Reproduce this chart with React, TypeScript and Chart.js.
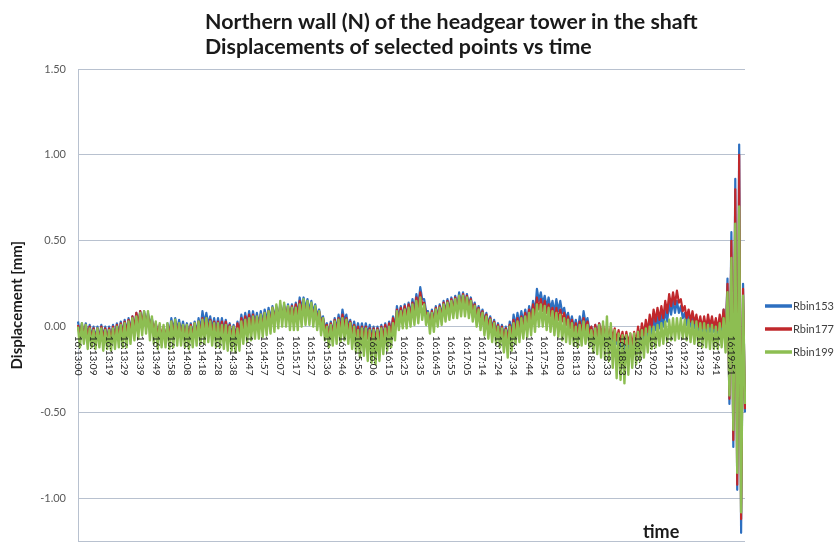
import React, { useEffect, useRef } from 'react';
import { Chart, registerables } from 'chart.js';

Chart.register(...registerables);

const TITLE_LINES = [
  'Northern wall (N) of the headgear tower in the shaft',
  'Displacements of selected points vs time',
];
const Y_TITLE = 'Displacement [mm]';
const X_TITLE = 'time';
const SERIES_NAMES = ['Rbin153', 'Rbin177', 'Rbin199'];
const SERIES_COLORS = ['#2D6FC0', '#C0282C', '#8DBE52'];
const SERIES_WIDTHS = [2.2, 2.2, 2.4];

const TICK_LABELS = [
  '16:13:00', '16:13:09', '16:13:19', '16:13:29', '16:13:39', '16:13:49', '16:13:58',
  '16:14:08', '16:14:18', '16:14:28', '16:14:38', '16:14:47', '16:14:57',
  '16:15:07', '16:15:17', '16:15:27', '16:15:36', '16:15:46', '16:15:56',
  '16:16:06', '16:16:15', '16:16:25', '16:16:35', '16:16:45', '16:16:55',
  '16:17:05', '16:17:14', '16:17:24', '16:17:34', '16:17:44', '16:17:54',
  '16:18:03', '16:18:13', '16:18:23', '16:18:33', '16:18:43', '16:18:52',
  '16:19:02', '16:19:12', '16:19:22', '16:19:32', '16:19:41', '16:19:51',
];
const SAMPLES_PER_LABEL = 8;

// one row per labelled interval (8 samples each)
const RBIN153 = [
  0.03, -0.04, 0.02, -0.05, 0.02, -0.05, 0.01, -0.06,
  0.00, -0.07, 0.00, -0.07, 0.01, -0.06, 0.00, -0.07,
  0.00, -0.07, 0.01, -0.06, 0.02, -0.05, 0.03, -0.04,
  0.04, -0.03, 0.05, -0.02, 0.06, -0.01, 0.08, 0.01,
  0.09, 0.02, 0.09, 0.02, 0.08, 0.01, 0.05, -0.02,
  0.02, -0.05, 0.00, -0.07, -0.02, -0.09, 0.02, -0.05,
  0.05, -0.02, 0.05, -0.02, 0.04, -0.03, 0.03, -0.04,
  0.02, -0.05, 0.02, -0.05, 0.03, -0.04, 0.05, -0.02,
  0.09, 0.02, 0.08, 0.01, 0.06, -0.01, 0.05, -0.02,
  0.05, -0.02, 0.05, -0.02, 0.04, -0.03, 0.02, -0.05,
  0.01, -0.06, 0.03, -0.04, 0.07, 0.00, 0.08, 0.01,
  0.09, 0.02, 0.09, 0.02, 0.08, 0.01, 0.09, 0.02,
  0.10, 0.03, 0.11, 0.04, 0.12, 0.05, 0.12, 0.05,
  0.13, 0.06, 0.13, 0.06, 0.13, 0.06, 0.13, 0.06,
  0.14, 0.07, 0.17, 0.10, 0.17, 0.10, 0.16, 0.09,
  0.15, 0.08, 0.13, 0.06, 0.10, 0.03, 0.06, -0.01,
  0.02, -0.05, 0.03, -0.04, 0.05, -0.02, 0.07, 0.00,
  0.10, 0.03, 0.07, 0.00, 0.04, -0.03, 0.03, -0.04,
  0.02, -0.05, 0.02, -0.05, 0.02, -0.05, 0.01, -0.06,
  0.00, -0.07, 0.00, -0.07, 0.01, -0.06, 0.02, -0.05,
  0.03, -0.04, 0.06, -0.01, 0.12, 0.05, 0.12, 0.05,
  0.13, 0.06, 0.14, 0.07, 0.16, 0.09, 0.19, 0.12,
  0.23, 0.16, 0.16, 0.09, 0.09, 0.02, 0.10, 0.03,
  0.12, 0.05, 0.13, 0.06, 0.15, 0.08, 0.16, 0.09,
  0.17, 0.10, 0.18, 0.11, 0.20, 0.13, 0.20, 0.13,
  0.19, 0.12, 0.17, 0.10, 0.14, 0.07, 0.12, 0.05,
  0.10, 0.03, 0.08, 0.01, 0.06, -0.01, 0.04, -0.03,
  0.02, -0.05, 0.01, -0.06, 0.00, -0.07, 0.03, -0.04,
  0.07, 0.00, 0.08, 0.01, 0.09, 0.02, 0.10, 0.03,
  0.12, 0.05, 0.15, 0.08, 0.22, 0.15, 0.20, 0.13,
  0.18, 0.11, 0.17, 0.10, 0.15, 0.08, 0.16, 0.09,
  0.15, 0.08, 0.11, 0.04, 0.08, 0.01, 0.06, -0.01,
  0.04, -0.03, 0.06, -0.01, 0.09, 0.02, 0.05, -0.02,
  0.00, -0.07, 0.01, -0.06, 0.02, -0.05, 0.00, -0.07,
  -0.02, -0.09, -0.02, -0.09, -0.03, -0.10, -0.05, -0.12,
  -0.06, -0.13, -0.07, -0.14, -0.08, -0.15, -0.07, -0.14,
  -0.05, -0.12, -0.03, -0.10, 0.00, -0.07, 0.03, -0.04,
  0.05, -0.02, 0.06, -0.01, 0.07, 0.00, 0.10, 0.03,
  0.14, 0.07, 0.15, 0.08, 0.15, 0.08, 0.12, 0.05,
  0.08, 0.01, 0.07, 0.00, 0.06, -0.01, 0.05, -0.02,
  0.03, -0.04, 0.03, -0.04, 0.04, -0.03, 0.04, -0.03,
  0.03, -0.04, 0.05, -0.02, 0.10, -0.10, 0.28, -0.45,
  0.55, -0.70, 0.86, -0.95, 1.06, -1.20, 0.25, -0.50,
];

const RBIN177 = [
  0.01, -0.06, 0.01, -0.06, 0.01, -0.06, 0.00, -0.07,
  -0.01, -0.08, -0.01, -0.08, 0.00, -0.07, -0.01, -0.08,
  -0.01, -0.08, 0.00, -0.07, 0.01, -0.06, 0.02, -0.05,
  0.03, -0.04, 0.04, -0.03, 0.06, -0.01, 0.08, 0.01,
  0.09, 0.02, 0.08, 0.01, 0.07, 0.00, 0.04, -0.03,
  0.02, -0.05, 0.01, -0.06, 0.00, -0.07, 0.01, -0.06,
  0.03, -0.04, 0.03, -0.04, 0.02, -0.05, 0.01, -0.06,
  0.01, -0.06, 0.01, -0.06, 0.02, -0.05, 0.03, -0.04,
  0.05, -0.02, 0.05, -0.02, 0.04, -0.03, 0.03, -0.04,
  0.03, -0.04, 0.03, -0.04, 0.03, -0.04, 0.01, -0.06,
  0.00, -0.07, 0.02, -0.05, 0.05, -0.02, 0.06, -0.01,
  0.07, 0.00, 0.07, 0.00, 0.06, -0.01, 0.07, 0.00,
  0.08, 0.01, 0.09, 0.02, 0.11, 0.04, 0.11, 0.04,
  0.12, 0.05, 0.12, 0.05, 0.12, 0.05, 0.12, 0.05,
  0.13, 0.06, 0.15, 0.08, 0.15, 0.08, 0.14, 0.07,
  0.13, 0.06, 0.11, 0.04, 0.09, 0.02, 0.05, -0.02,
  0.01, -0.06, 0.02, -0.05, 0.04, -0.03, 0.05, -0.02,
  0.07, 0.00, 0.05, -0.02, 0.03, -0.04, 0.01, -0.06,
  0.00, -0.07, 0.00, -0.07, 0.00, -0.07, -0.01, -0.08,
  -0.01, -0.08, -0.01, -0.08, 0.00, -0.07, 0.01, -0.06,
  0.02, -0.05, 0.05, -0.02, 0.10, 0.03, 0.11, 0.04,
  0.12, 0.05, 0.13, 0.06, 0.14, 0.07, 0.17, 0.10,
  0.20, 0.13, 0.14, 0.07, 0.08, 0.01, 0.09, 0.02,
  0.11, 0.04, 0.12, 0.05, 0.14, 0.07, 0.15, 0.08,
  0.16, 0.09, 0.17, 0.10, 0.18, 0.11, 0.19, 0.12,
  0.18, 0.11, 0.16, 0.09, 0.13, 0.06, 0.11, 0.04,
  0.09, 0.02, 0.07, 0.00, 0.05, -0.02, 0.03, -0.04,
  0.01, -0.06, 0.00, -0.07, -0.01, -0.08, 0.01, -0.06,
  0.04, -0.03, 0.05, -0.02, 0.06, -0.01, 0.08, 0.01,
  0.10, 0.03, 0.13, 0.06, 0.17, 0.10, 0.16, 0.09,
  0.15, 0.08, 0.13, 0.06, 0.11, 0.04, 0.11, 0.04,
  0.10, 0.03, 0.08, 0.01, 0.06, -0.01, 0.04, -0.03,
  0.02, -0.05, 0.03, -0.04, 0.05, -0.02, 0.03, -0.04,
  0.00, -0.07, 0.01, -0.06, 0.02, -0.05, 0.01, -0.06,
  0.00, -0.07, 0.00, -0.07, -0.01, -0.08, -0.02, -0.09,
  -0.03, -0.10, -0.03, -0.10, -0.04, -0.11, -0.03, -0.10,
  0.00, -0.07, 0.02, -0.05, 0.04, -0.03, 0.07, 0.00,
  0.10, 0.03, 0.11, 0.04, 0.12, 0.05, 0.15, 0.08,
  0.19, 0.12, 0.20, 0.13, 0.21, 0.14, 0.16, 0.09,
  0.12, 0.05, 0.10, 0.03, 0.09, 0.02, 0.07, 0.00,
  0.06, -0.01, 0.06, -0.01, 0.07, 0.00, 0.06, -0.01,
  0.05, -0.02, 0.07, 0.00, 0.10, -0.08, 0.25, -0.42,
  0.50, -0.66, 0.80, -0.92, 1.00, -1.12, 0.22, -0.48,
];

const RBIN199 = [
  0.00, -0.12, 0.02, -0.10, 0.01, -0.13, -0.01, -0.12,
  -0.02, -0.13, -0.01, -0.12, -0.01, -0.14, -0.02, -0.13,
  -0.02, -0.14, -0.01, -0.13, 0.00, -0.12, 0.01, -0.12,
  0.02, -0.12, 0.03, -0.10, 0.05, -0.08, 0.06, -0.07,
  0.08, -0.05, 0.09, -0.04, 0.09, -0.08, 0.06, -0.10,
  0.03, -0.13, 0.02, -0.12, 0.01, -0.12, 0.02, -0.13,
  0.03, -0.12, 0.04, -0.11, 0.02, -0.11, 0.01, -0.12,
  0.01, -0.13, 0.00, -0.12, 0.02, -0.11, 0.03, -0.10,
  0.04, -0.10, 0.05, -0.09, 0.03, -0.11, 0.02, -0.12,
  0.02, -0.12, 0.01, -0.13, 0.01, -0.14, 0.00, -0.14,
  0.00, -0.15, -0.01, -0.14, 0.03, -0.10, 0.04, -0.09,
  0.05, -0.08, 0.06, -0.07, 0.06, -0.07, 0.07, -0.06,
  0.08, -0.05, 0.09, -0.04, 0.11, -0.03, 0.13, -0.01,
  0.15, 0.00, 0.14, 0.00, 0.12, -0.02, 0.11, -0.02,
  0.11, -0.02, 0.13, 0.00, 0.16, 0.01, 0.15, 0.01,
  0.14, 0.00, 0.12, -0.02, 0.09, -0.05, 0.05, -0.08,
  0.00, -0.12, 0.01, -0.11, 0.03, -0.10, 0.04, -0.09,
  0.05, -0.08, 0.04, -0.10, 0.02, -0.13, 0.00, -0.15,
  -0.02, -0.18, -0.01, -0.17, -0.01, -0.20, -0.02, -0.21,
  -0.02, -0.22, -0.02, -0.20, -0.01, -0.16, -0.01, -0.14,
  0.00, -0.12, 0.02, -0.08, 0.09, -0.02, 0.09, -0.01,
  0.10, -0.01, 0.11, 0.00, 0.13, 0.01, 0.15, 0.02,
  0.17, 0.04, 0.13, 0.01, 0.08, -0.04, 0.08, -0.03,
  0.10, 0.00, 0.11, 0.01, 0.13, 0.03, 0.14, 0.04,
  0.15, 0.05, 0.16, 0.05, 0.18, 0.06, 0.18, 0.06,
  0.17, 0.05, 0.15, 0.03, 0.12, 0.00, 0.10, -0.02,
  0.08, -0.05, 0.06, -0.07, 0.04, -0.09, 0.02, -0.10,
  0.00, -0.12, -0.01, -0.15, -0.02, -0.18, 0.00, -0.14,
  0.02, -0.10, 0.03, -0.09, 0.05, -0.07, 0.06, -0.06,
  0.08, -0.05, 0.10, -0.03, 0.13, 0.00, 0.13, 0.00,
  0.12, -0.02, 0.11, -0.03, 0.09, -0.05, 0.08, -0.06,
  0.07, -0.08, 0.05, -0.09, 0.04, -0.10, 0.02, -0.11,
  0.00, -0.12, 0.01, -0.11, 0.03, -0.10, 0.01, -0.12,
  -0.02, -0.15, -0.01, -0.16, 0.01, -0.18, 0.03, -0.19,
  0.06, -0.20, 0.02, -0.24, -0.02, -0.30, -0.04, -0.31,
  -0.05, -0.33, -0.05, -0.28, -0.04, -0.24, -0.04, -0.22,
  -0.03, -0.20, -0.02, -0.18, -0.01, -0.15, 0.00, -0.13,
  0.00, -0.12, 0.01, -0.11, 0.02, -0.10, 0.03, -0.09,
  0.04, -0.08, 0.05, -0.08, 0.05, -0.07, 0.05, -0.07,
  0.04, -0.08, 0.04, -0.09, 0.03, -0.10, 0.03, -0.11,
  0.02, -0.12, 0.02, -0.12, 0.01, -0.13, 0.01, -0.13,
  0.00, -0.13, 0.02, -0.12, 0.05, -0.15, 0.20, -0.40,
  0.40, -0.60, 0.60, -0.85, 0.70, -1.08, 0.18, -0.45,
];

const Y_MIN = -1.25;
const Y_MAX = 1.5;
const Y_STEP = 0.5;

const CATEGORY_LABELS = RBIN199.map((_, i) =>
  i % SAMPLES_PER_LABEL === 0 ? TICK_LABELS[i / SAMPLES_PER_LABEL] ?? '' : ''
);

const GRID = '#B8C1CF';
const FONT = 'Lato, "Open Sans", sans-serif';

const overlayPlugin = {
  id: 'overlay',
  afterDatasetsDraw(chart: any) {
    const { ctx } = chart;
    const xs = chart.scales.x;
    const ys = chart.scales.y;
    const y0 = ys.getPixelForValue(0);
    ctx.save();
    ctx.fillStyle = '#1f1f1f';
    ctx.font = `10px ${FONT}`;
    ctx.textAlign = 'left';
    ctx.textBaseline = 'middle';
    (chart.data.labels as string[]).forEach((lab, i) => {
      if (!lab) return;
      const x = xs.getPixelForValue(i);
      ctx.save();
      ctx.translate(x, y0 + 9);
      ctx.rotate(Math.PI / 2);
      ctx.fillText(lab, 0, 0);
      ctx.restore();
    });
    ctx.restore();
  },
  afterDraw(chart: any) {
    const { ctx, chartArea } = chart;
    ctx.save();
    // title
    ctx.font = `bold 100px ${FONT}`;
    const w = ctx.measureText(TITLE_LINES[0]).width;
    const size = (100 * 493) / w;
    ctx.font = `bold ${size.toFixed(2)}px ${FONT}`;
    ctx.fillStyle = '#1a1a1a';
    ctx.textAlign = 'left';
    ctx.textBaseline = 'middle';
    TITLE_LINES.forEach((t, i) => ctx.fillText(t, 205, 22 + i * 25));

    // legend
    const lx = chartArea.right + 20;
    chart.data.datasets.forEach((ds: any, i: number) => {
      const y = 306 + i * 23;
      ctx.strokeStyle = ds.borderColor;
      ctx.lineWidth = 3.5;
      ctx.beginPath();
      ctx.moveTo(lx, y);
      ctx.lineTo(lx + 27, y);
      ctx.stroke();
      ctx.fillStyle = '#404040';
      ctx.font = `11px ${FONT}`;
      ctx.textAlign = 'left';
      ctx.textBaseline = 'middle';
      ctx.fillText(ds.label, lx + 28, y);
    });

    // x axis title
    ctx.fillStyle = '#1a1a1a';
    ctx.font = `bold 18px ${FONT}`;
    ctx.textAlign = 'left';
    ctx.textBaseline = 'middle';
    ctx.fillText(X_TITLE, 643, 532);
    ctx.restore();
  },
};

export default function App() {
  const ref = useRef<HTMLCanvasElement>(null);
  useEffect(() => {
    if (!ref.current) return;
    const canvasH = 560;
    const chart = new Chart(ref.current, {
      type: 'line',
      data: {
        labels: CATEGORY_LABELS,
        datasets: [
          { label: SERIES_NAMES[0], data: RBIN153, borderColor: SERIES_COLORS[0], borderWidth: SERIES_WIDTHS[0], order: 3 },
          { label: SERIES_NAMES[1], data: RBIN177, borderColor: SERIES_COLORS[1], borderWidth: SERIES_WIDTHS[1], order: 2 },
          { label: SERIES_NAMES[2], data: RBIN199, borderColor: SERIES_COLORS[2], borderWidth: SERIES_WIDTHS[2], order: 1 },
        ].map((d) => ({
          ...d,
          backgroundColor: d.borderColor,
          borderJoinStyle: 'round' as const,
          pointRadius: 0,
          tension: 0,
          fill: false,
        })),
      },
      options: {
        responsive: false,
        animation: false,
        events: [],
        layout: { padding: { top: 69, right: 91, bottom: canvasH - 546, left: 0 } },
        plugins: {
          legend: { display: false },
          title: { display: false },
          tooltip: { enabled: false },
        },
        scales: {
          x: {
            type: 'category',
            display: false,
            offset: false,
          },
          y: {
            min: Y_MIN,
            max: Y_MAX,
            afterFit: (scale: any) => {
              scale.width = 78;
            },
            ticks: {
              stepSize: Y_STEP,
              padding: 12,
              color: '#595959',
              font: { family: FONT, size: 11 },
              callback: (v: any) => {
                const n = Number(v);
                return Math.abs(n / Y_STEP - Math.round(n / Y_STEP)) < 1e-6 ? n.toFixed(2) : '';
              },
            },
            grid: { color: GRID, lineWidth: 1, drawTicks: false },
            border: { display: true, color: GRID, width: 1 },
            title: {
              display: true,
              text: Y_TITLE,
              color: '#1a1a1a',
              font: { family: FONT, size: 15, weight: 'bold' },
              padding: { top: 8, bottom: 0 },
            },
          },
        },
      },
      plugins: [overlayPlugin],
    });
    return () => chart.destroy();
  }, []);

  return (
    <div
      style={{
        position: 'absolute',
        left: 0,
        top: 0,
        width: 836,
        height: 543,
        overflow: 'hidden',
        background: '#fff',
      }}
    >
      <canvas ref={ref} width={836} height={560} style={{ display: 'block' }} />
    </div>
  );
}
